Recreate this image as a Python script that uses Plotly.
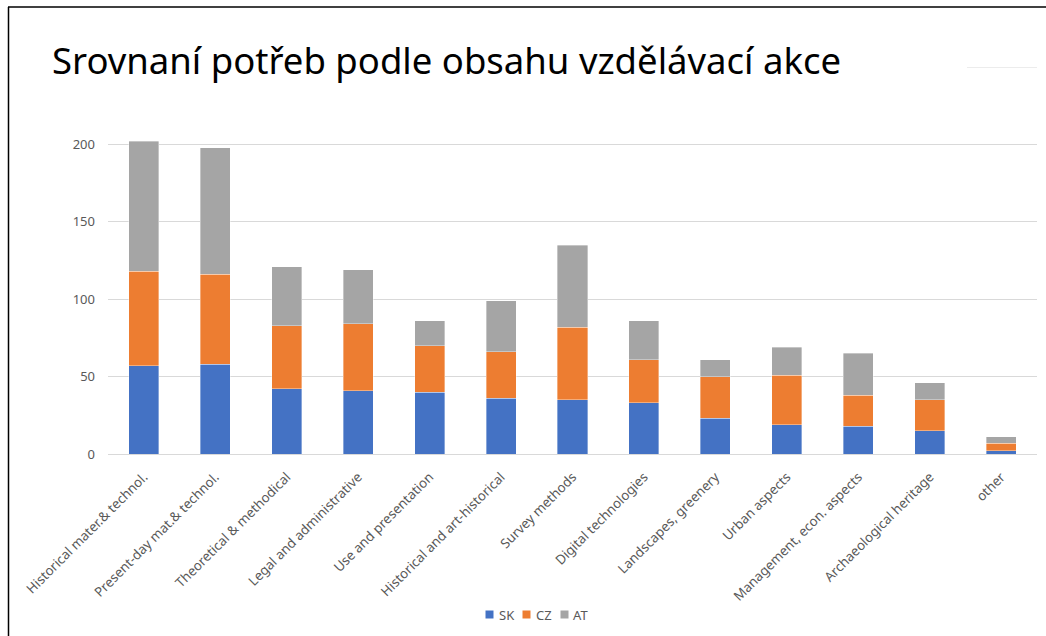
import plotly.graph_objects as go

categories = [
    "Historical mater.& technol.",
    "Present-day mat.& technol.",
    "Theoretical & methodical",
    "Legal and administrative",
    "Use and presentation",
    "Historical and art-historical",
    "Survey methods",
    "Digital technologies",
    "Landscapes, greenery",
    "Urban aspects",
    "Management, econ. aspects",
    "Archaeological heritage",
    "other",
]
sk = [57, 58, 42, 41, 40, 36, 35, 33, 23, 19, 18, 15, 2]
cz = [61, 58, 41, 43, 30, 30, 47, 28, 27, 32, 20, 20, 5]
at = [84, 82, 38, 35, 16, 33, 53, 25, 11, 18, 27, 11, 4]
series_names = ["SK", "CZ", "AT"]
y_ticks = [0, 50, 100, 150, 200]
title_text = "Srovnaní potřeb podle obsahu vzdělávací akce"

colors = {"SK": "#4472C4", "CZ": "#ED7D31", "AT": "#A5A5A5"}

W, H = 1046, 636
L, R, T, B = 108, 9, 67, 182
pw = W - L - R
ph = H - T - B

def px_to_paper_x(px):
    return (px - L) / pw

def py_to_paper_y(py):
    return (H - B - py) / ph

font_family = "Noto Sans, Open Sans, DejaVu Sans, sans-serif"

fig = go.Figure()
for name, vals in zip(series_names, [sk, cz, at]):
    fig.add_trace(go.Bar(
        name=name, x=categories, y=vals,
        marker=dict(color=colors[name], line=dict(color="rgba(255,255,255,0.6)", width=0.6)),
        showlegend=False,
    ))

# custom compact legend (Excel-like): small squares + labels
legend_square_x = [485.5, 522.5, 560.5]
legend_text_x = [497, 534, 571]
legend_cy = 614.5
shapes = [
    dict(type="line", xref="paper", yref="paper",
         x0=px_to_paper_x(8.5), x1=px_to_paper_x(8.5),
         y0=py_to_paper_y(7), y1=py_to_paper_y(640),
         line=dict(color="#000000", width=1.5)),
    dict(type="line", xref="paper", yref="paper",
         x0=px_to_paper_x(8), x1=px_to_paper_x(1050),
         y0=py_to_paper_y(7), y1=py_to_paper_y(7),
         line=dict(color="#000000", width=1.5)),
    dict(type="line", xref="paper", yref="y",
         x0=px_to_paper_x(967), x1=1, y0=250, y1=250,
         line=dict(color="#D9D9D9", width=1)),
]
annotations = []
for name, sx, tx in zip(series_names, legend_square_x, legend_text_x):
    shapes.append(dict(
        type="rect", xref="paper", yref="paper",
        x0=px_to_paper_x(sx), x1=px_to_paper_x(sx + 8),
        y0=py_to_paper_y(legend_cy - 4), y1=py_to_paper_y(legend_cy + 4),
        fillcolor=colors[name], line=dict(width=0),
    ))
    annotations.append(dict(
        text=name, xref="paper", yref="paper",
        x=px_to_paper_x(tx), y=py_to_paper_y(legend_cy),
        xanchor="left", yanchor="middle", showarrow=False,
        font=dict(family=font_family, size=13, color="#595959"),
    ))

fig.update_layout(
    width=W, height=H,
    barmode="stack",
    bargap=0.58,
    margin=dict(l=L, r=R, t=T, b=B, autoexpand=False),
    paper_bgcolor="white",
    plot_bgcolor="white",
    font=dict(family=font_family, color="#595959", size=13),
    title=dict(
        text=title_text,
        x=52 / W, xanchor="left", xref="container",
        y=1 - 61 / H, yanchor="middle", yref="container",
        font=dict(family=font_family, size=36.5, color="#000000"),
    ),
    xaxis=dict(
        tickangle=-45,
        tickfont=dict(size=13.3, color="#595959"),
        showline=True, linecolor="#D9D9D9", linewidth=1,
        ticks="", automargin=False,
        ticklabelstandoff=9,
    ),
    yaxis=dict(
        range=[0, 250],
        tickvals=y_ticks,
        showgrid=True, gridcolor="#D9D9D9", gridwidth=1,
        zeroline=False, showline=False, ticks="",
        tickfont=dict(size=13, color="#595959"),
        ticklabelstandoff=12,
        automargin=False,
    ),
    showlegend=False,
    shapes=shapes,
    annotations=annotations,
)

fig.write_html(
    "out.html",
    config={"displayModeBar": False},
    post_script="document.body.style.margin='0';document.body.style.overflow='hidden';",
)
